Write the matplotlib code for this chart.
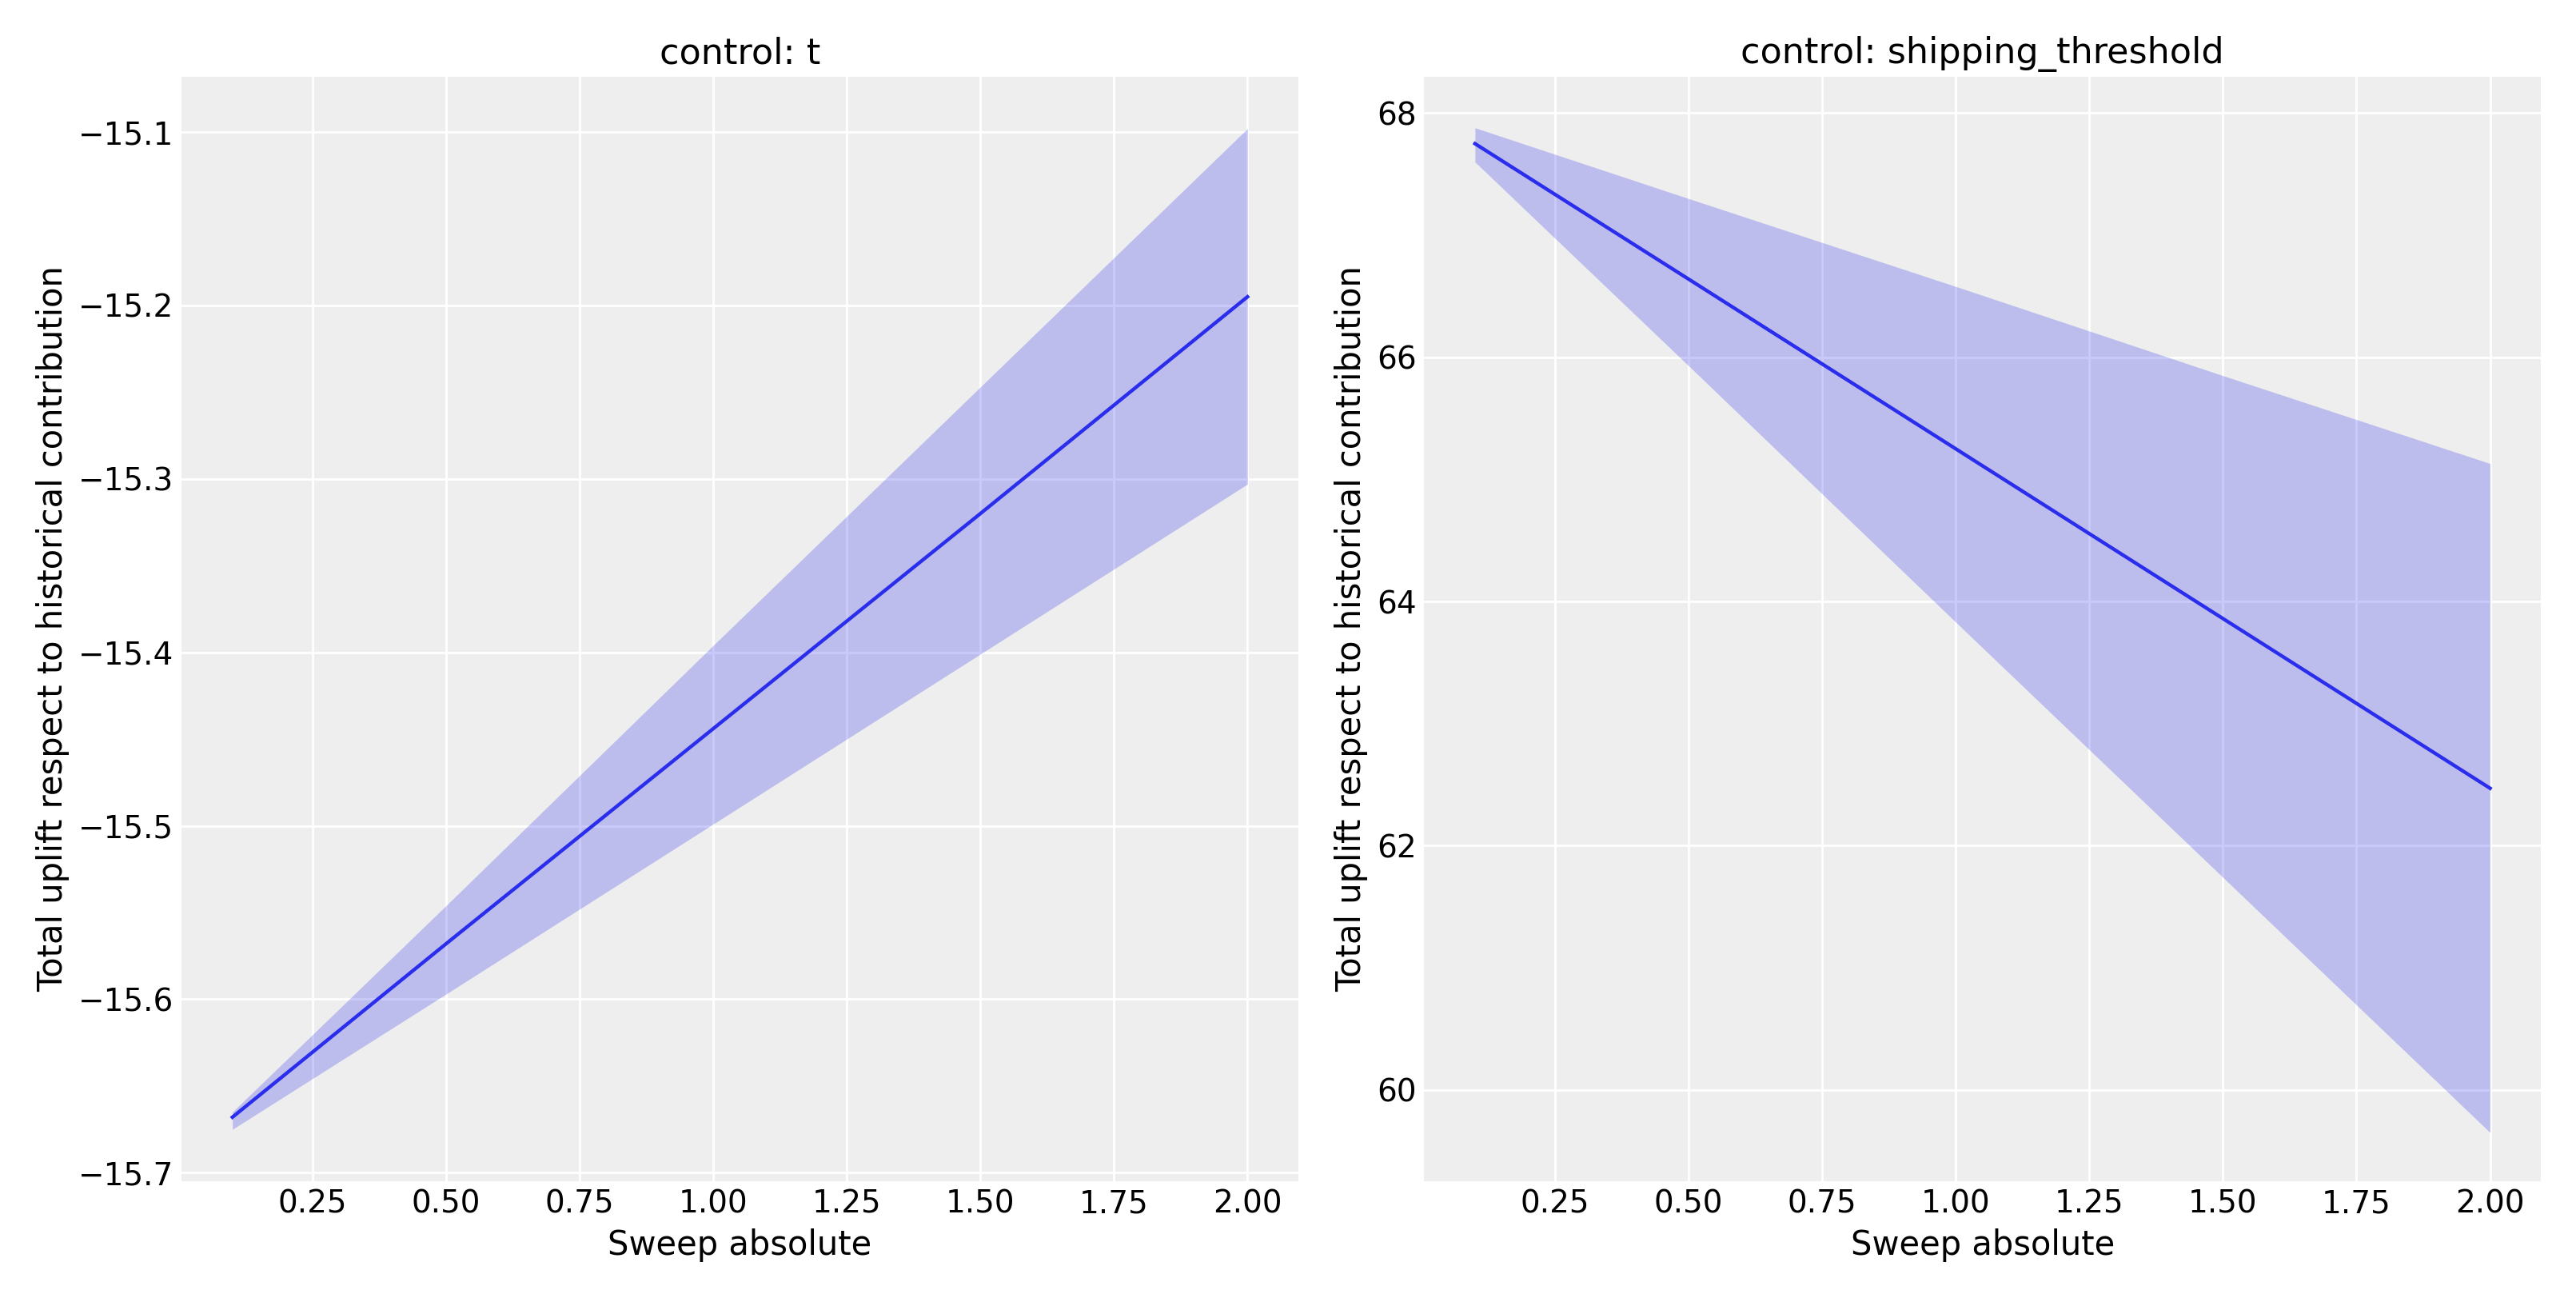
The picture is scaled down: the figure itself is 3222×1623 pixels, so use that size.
import matplotlib
matplotlib.use("Agg")
import matplotlib.pyplot as plt

sweep = [0.1, 0.5, 1.0, 1.5, 2.0]
t_mean = [-15.668, -15.568, -15.444, -15.320, -15.195]
t_upper = [-15.665, -15.546, -15.396, -15.247, -15.098]
t_lower = [-15.675, -15.597, -15.499, -15.401, -15.303]
s_mean = [67.75, 66.64, 65.25, 63.86, 62.47]
s_upper = [67.88, 67.30, 66.58, 65.85, 65.13]
s_lower = [67.60, 65.93, 63.83, 61.74, 59.65]
titles = ["control: t", "control: shipping_threshold"]

plt.rcParams.update({
    "font.family": "DejaVu Sans",
    "axes.facecolor": "#eeeeee",
    "axes.edgecolor": "none",
    "axes.grid": True,
    "grid.color": "white",
    "grid.linewidth": 1.0,
    "axes.axisbelow": True,
    "xtick.major.size": 0,
    "ytick.major.size": 0,
    "font.size": 15,
})
fig, axes = plt.subplots(1, 2, figsize=(16.115, 8.115), dpi=200)
color = "#2a2eec"
for ax, m, u, l, title in zip(axes, [t_mean, s_mean], [t_upper, s_upper], [t_lower, s_lower], titles):
    ax.fill_between(sweep, l, u, color=color, alpha=0.25, linewidth=0)
    ax.plot(sweep, m, color=color, linewidth=1.6)
    ax.set_title(title, fontsize=16)
    ax.set_xlabel("Sweep absolute", fontsize=15)
    ax.set_ylabel("Total uplift respect to historical contribution", fontsize=15)
    ax.tick_params(labelsize=14)
axes[0].set_xticks([0.25, 0.5, 0.75, 1.0, 1.25, 1.5, 1.75, 2.0])
axes[1].set_xticks([0.25, 0.5, 0.75, 1.0, 1.25, 1.5, 1.75, 2.0])
axes[0].set_ylim(-15.705, -15.068)
axes[1].set_ylim(59.25, 68.3)
fig.tight_layout()
fig.savefig("out.png")
